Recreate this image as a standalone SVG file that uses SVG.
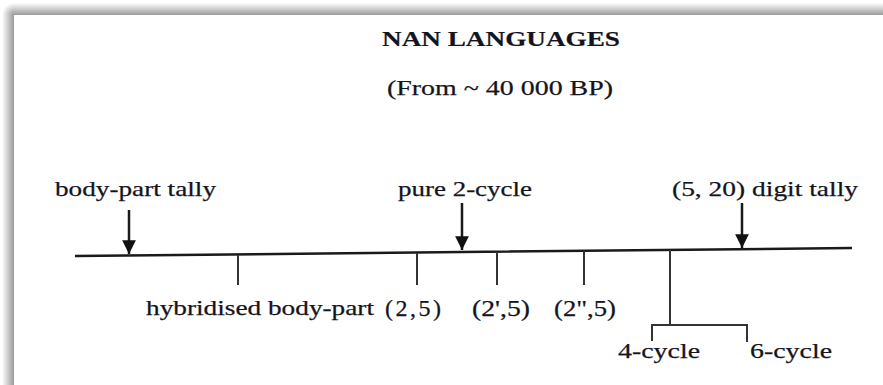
<svg xmlns="http://www.w3.org/2000/svg" width="883" height="385" viewBox="0 0 883 385">
<style>
text{font-family:"Liberation Serif","Times New Roman",serif;fill:#141420;font-size:22px;stroke:#141420;stroke-width:0.25}
.t{font-weight:bold;stroke-width:0.2}
.p{font-size:24px}
.ln{stroke:#1a1a1a;stroke-width:2.5;fill:none}
.tk{stroke:#333;stroke-width:2;fill:none}
</style>
<defs>
<linearGradient id="gt" x1="0" y1="0" x2="0" y2="1"><stop offset="0" stop-color="#fff"/><stop offset="1" stop-color="#9a9a9a"/></linearGradient>
<linearGradient id="gl" x1="0" y1="0" x2="1" y2="0"><stop offset="0" stop-color="#fff"/><stop offset="1" stop-color="#9a9a9a"/></linearGradient>
<radialGradient id="gc" cx="14" cy="15" r="12" gradientUnits="userSpaceOnUse"><stop offset="0" stop-color="#9a9a9a"/><stop offset="1" stop-color="#fff"/></radialGradient>
<marker id="ah" viewBox="0 0 10 10" refX="10" refY="5" markerWidth="5.5" markerHeight="5.5" orient="auto" markerUnits="strokeWidth"><path d="M0,0 L10,5 L0,10 Z" fill="#111"/></marker>
</defs>
<rect width="883" height="385" fill="#fff"/>
<rect x="14" y="3" width="869" height="12" fill="url(#gt)"/>
<rect x="2" y="15" width="12" height="370" fill="url(#gl)"/>
<rect x="2" y="3" width="12" height="12" fill="url(#gc)"/>
<g id="title">
<text class="t" x="382" y="46" textLength="238" lengthAdjust="spacingAndGlyphs">NAN LANGUAGES</text>
<text x="387" y="95" textLength="226" lengthAdjust="spacingAndGlyphs">(From ~ 40 000 BP)</text>
</g>
<g id="connectors">
<path class="ln" d="M75,256 L462,252 L852,248"/>
<line class="ln" x1="129" y1="210" x2="129" y2="254" stroke-width="2.4" marker-end="url(#ah)"/>
<line class="ln" x1="462" y1="203" x2="462" y2="250" stroke-width="2.4" marker-end="url(#ah)"/>
<line class="ln" x1="742" y1="203" x2="742" y2="248" stroke-width="2.4" marker-end="url(#ah)"/>
<line class="tk" x1="238" y1="255" x2="238" y2="285"/>
<line class="tk" x1="417" y1="253" x2="417" y2="285"/>
<line class="tk" x1="497" y1="252" x2="497" y2="285"/>
<line class="tk" x1="584" y1="251" x2="584" y2="285"/>
<line class="tk" x1="670" y1="250" x2="670" y2="325"/>
<path class="tk" d="M652,341 V325 H747 V342"/>
</g>
<g id="n-bodypart"><text x="55" y="196" textLength="161" lengthAdjust="spacingAndGlyphs">body-part tally</text></g>
<g id="n-pure2"><text x="398" y="196" textLength="134" lengthAdjust="spacingAndGlyphs">pure 2-cycle</text></g>
<g id="n-digit"><text x="672" y="196" textLength="186" lengthAdjust="spacingAndGlyphs">(5, 20) digit tally</text></g>
<g id="n-hybrid"><text x="146" y="315" textLength="228" lengthAdjust="spacingAndGlyphs">hybridised body-part</text></g>
<g id="n-25"><text class="p" x="385" y="316" textLength="56" lengthAdjust="spacing">(2,5)</text></g>
<g id="n-2p5"><text class="p" x="472" y="316" textLength="58" lengthAdjust="spacingAndGlyphs">(2',5)</text></g>
<g id="n-2pp5"><text class="p" x="554" y="316" textLength="62" lengthAdjust="spacingAndGlyphs">(2",5)</text></g>
<g id="n-4cycle"><text x="618" y="358" textLength="82" lengthAdjust="spacingAndGlyphs">4-cycle</text></g>
<g id="n-6cycle"><text x="750" y="358" textLength="82" lengthAdjust="spacingAndGlyphs">6-cycle</text></g>
</svg>
